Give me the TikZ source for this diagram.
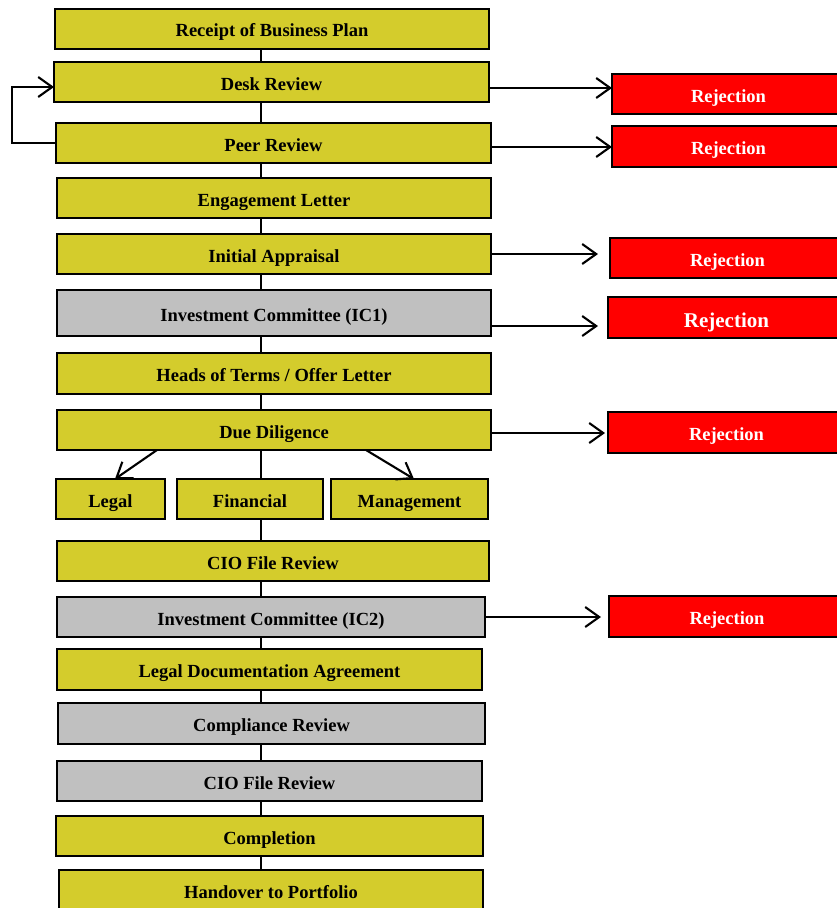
\documentclass[tikz,border=0pt]{standalone}
\usepackage{fontspec}
\setmainfont{Liberation Serif}
\usetikzlibrary{arrows.meta,calc}
\definecolor{boxyellow}{RGB}{212,204,44}
\definecolor{boxgray}{RGB}{192,192,192}
\definecolor{rejred}{RGB}{255,0,0}
\begin{document}
\begin{tikzpicture}[x=1pt,y=-1pt,
  base/.style={draw=black,line width=2pt,inner sep=0pt,outer sep=0pt,
    font=\fontsize{18.5}{20}\selectfont\bfseries,text height=18pt,text depth=1.4pt,align=center},
  ybox/.style={base,fill=boxyellow},
  gbox/.style={base,fill=boxgray},
  rbox/.style={base,fill=rejred,text=white},
  conn/.style={line width=2.1pt,draw=black},
  arr/.style={conn,-{Straight Barb[length=14pt,width=20pt]}},
]
\useasboundingbox (0,0) rectangle (837,908);
\clip (0,0) rectangle (837,908);
\fill[white] (0,0) rectangle (837,908);
\coordinate (col) at (261,0);
\coordinate (lp) at (12,87);
% main column
\node[ybox,minimum width=434pt,minimum height=40pt] (rbp) at (272,28.5) {Receipt of Business Plan};
\node[ybox,minimum width=435pt,minimum height=40pt] (desk) at (271.5,82) {Desk Review};
\node[ybox,minimum width=435pt,minimum height=40pt] (peer) at (273.5,143) {Peer Review};
\node[ybox,minimum width=434pt,minimum height=40pt] (eng) at (274,198) {Engagement Letter};
\node[ybox,minimum width=434pt,minimum height=40pt] (init) at (274,254) {Initial Appraisal};
\node[gbox,minimum width=434pt,minimum height=46pt] (ic1) at (274,313) {Investment Committee (IC1)};
\node[ybox,minimum width=434pt,minimum height=41pt] (hot) at (274,373.5) {Heads of Terms / Offer Letter};
\node[ybox,minimum width=434pt,minimum height=40pt] (dd) at (274,430) {Due Diligence};
\node[ybox,minimum width=109pt,minimum height=40pt] (legal) at (110.5,499) {Legal};
\node[ybox,minimum width=146pt,minimum height=40pt] (fin) at (250,499) {Financial};
\node[ybox,minimum width=157pt,minimum height=40pt] (mgmt) at (409.5,499) {Management};
\node[ybox,minimum width=432pt,minimum height=40pt] (cio1) at (273,561) {CIO File Review};
\node[gbox,minimum width=428pt,minimum height=40pt] (ic2) at (271,617) {Investment Committee (IC2)};
\node[ybox,minimum width=425pt,minimum height=41pt] (lda) at (269.5,669.5) {Legal Documentation Agreement};
\node[gbox,minimum width=427pt,minimum height=41pt] (comp) at (271.5,723.5) {Compliance Review};
\node[gbox,minimum width=425pt,minimum height=40pt] (cio2) at (269.5,781) {CIO File Review};
\node[ybox,minimum width=427pt,minimum height=40pt] (compl) at (269.5,836) {Completion};
\node[ybox,minimum width=424pt,minimum height=40pt] (hand) at (271,890) {Handover to Portfolio};
% rejections
\node[rbox,minimum width=233pt,minimum height=40pt] (r1) at (728.5,94) {Rejection};
\node[rbox,minimum width=233pt,minimum height=41pt] (r2) at (728.5,146.5) {Rejection};
\node[rbox,minimum width=235pt,minimum height=40pt] (r3) at (727.5,258) {Rejection};
\node[rbox,minimum width=237pt,minimum height=41pt,font=\fontsize{21}{23}\selectfont\bfseries,text height=20pt,text depth=0.5pt] (r4) at (726.5,317.5) {Rejection};
\node[rbox,minimum width=237pt,minimum height=41pt] (r5) at (726.5,432.5) {Rejection};
\node[rbox,minimum width=236pt,minimum height=41pt] (r6) at (727,616.5) {Rejection};
% vertical connectors
\draw[conn] (rbp.south -| col) -- (desk.north -| col);
\draw[conn] (desk.south -| col) -- (peer.north -| col);
\draw[conn] (peer.south -| col) -- (eng.north -| col);
\draw[conn] (eng.south -| col) -- (init.north -| col);
\draw[conn] (init.south -| col) -- (ic1.north -| col);
\draw[conn] (ic1.south -| col) -- (hot.north -| col);
\draw[conn] (hot.south -| col) -- (dd.north -| col);
\draw[conn] (dd.south -| col) -- (fin.north -| col);
\draw[conn] (fin.south -| col) -- (cio1.north -| col);
\draw[conn] (cio1.south -| col) -- (ic2.north -| col);
\draw[conn] (ic2.south -| col) -- (lda.north -| col);
\draw[conn] (lda.south -| col) -- (comp.north -| col);
\draw[conn] (comp.south -| col) -- (cio2.north -| col);
\draw[conn] (cio2.south -| col) -- (compl.north -| col);
\draw[conn] (compl.south -| col) -- (hand.north -| col);
% due diligence branches
\draw[arr] ($(dd.south west)+(100,0)$) -- ($(legal.north west)+(59,0)$);
\draw[arr] ($(dd.south west)+(309,0)$) -- ($(mgmt.north west)+(83,0)$);
% loop back
\draw[arr] (peer.west) -| (lp) -- (desk.west |- lp);
% rejection arrows
\draw[arr] ([yshift=-6pt]desk.east) -- ([yshift=-6pt]desk.east -| r1.west);
\draw[arr] ([yshift=-4pt]peer.east) -- ([yshift=-4pt]peer.east -| r2.west);
\draw[arr] (init.east) -- ([xshift=-12pt]init.east -| r3.west);
\draw[arr] ([yshift=-13pt]ic1.east) -- ([xshift=-10pt,yshift=-13pt]ic1.east -| r4.west);
\draw[arr] ([yshift=-3pt]dd.east) -- ([xshift=-3pt,yshift=-3pt]dd.east -| r5.west);
\draw[arr] (ic2.east) -- ([xshift=-8pt]ic2.east -| r6.west);
\end{tikzpicture}
\end{document}
